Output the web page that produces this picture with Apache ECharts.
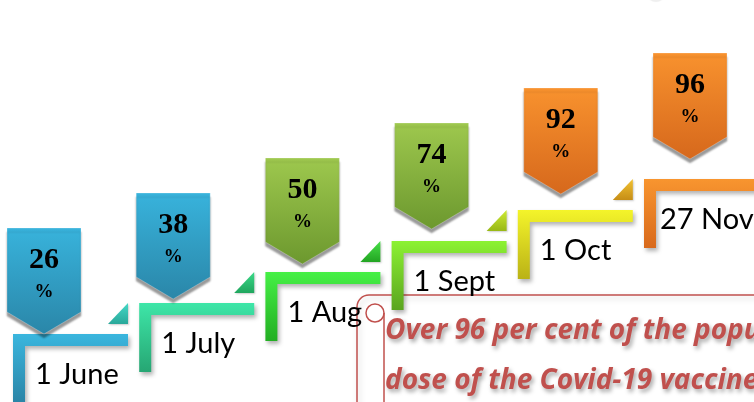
<!DOCTYPE html>
<html>
<head>
<meta charset="utf-8">
<script src="https://cdn.jsdelivr.net/npm/echarts@6/dist/echarts.min.js"></script>
<style>
  html, body { margin: 0; padding: 0; background: #fff; }
  #main { width: 754px; height: 402px; }
</style>
</head>
<body>
<div id="main"></div>
<script>
// chart data
const dateLabels = ['1 June', '1 July', '1 Aug', '1 Sept', '1 Oct', '27 Nov'];
const coverage = [26, 38, 50, 74, 92, 96];
const stepLevel = [0, 1, 2, 3, 4, 5];
const noteLines = [
    'Over 96 per cent of the population has received the first',
    'dose of the Covid-19 vaccine'
];

// colours (top, bottom) for each step, badge and small triangle
const stepColors = [
    ['#3ab6de', '#2a84a6'], ['#3ee6a8', '#26a673'], ['#46f046', '#22ae22'],
    ['#8cf232', '#5aa41e'], ['#f4f42a', '#bab216'], ['#f8952f', '#d8691c']
];
const badgeColors = [
    ['#38b3dc', '#2a86a8'], ['#38b3dc', '#2a86a8'], ['#9ec84e', '#6c982e'],
    ['#9ec84e', '#6c982e'], ['#f8922e', '#d6681c'], ['#f8922e', '#d6681c']
];
const triColors = [
    ['#44d8c6', '#2aa89a'], ['#3ad988', '#20a65e'], ['#48e048', '#22a422'],
    ['#cdea34', '#98b816'], ['#f2c232', '#c68e16'], null
];

function grad(c) {
    return new echarts.graphic.LinearGradient(0, 0, 0, 1, [
        { offset: 0, color: c[0] },
        { offset: 1, color: c[1] }
    ]);
}

function renderStep(params, api) {
    const i = params.dataIndex;
    const p = api.coord([api.value(0), api.value(1)]);
    const x = p[0], y = p[1];
    const children = [];

    // L-shaped step
    children.push({
        type: 'polygon',
        shape: { points: [[x, y], [x + 115, y], [x + 115, y + 12], [x + 12, y + 12], [x + 12, y + 69], [x, y + 69]] },
        style: {
            fill: grad(stepColors[i]),
            shadowBlur: 4, shadowColor: 'rgba(0,0,0,0.3)', shadowOffsetX: 2, shadowOffsetY: 3
        }
    });

    // small triangle at end of step
    if (triColors[i]) {
        children.push({
            type: 'polygon',
            shape: { points: [[x + 95, y - 10], [x + 115, y - 10], [x + 115, y - 31]] },
            style: {
                fill: grad(triColors[i]),
                shadowBlur: 2, shadowColor: 'rgba(0,0,0,0.2)', shadowOffsetX: 1, shadowOffsetY: 1
            }
        });
    }

    // badge (pentagon pointing down)
    const bx = x - 6 + 3 * i, by = y - 106 - 4 * i;
    children.push({
        type: 'polygon',
        shape: { points: [[bx, by], [bx + 74, by], [bx + 74, by + 84], [bx + 37, by + 106], [bx, by + 84]] },
        style: {
            fill: grad(badgeColors[i]),
            stroke: 'rgba(255,255,255,0.25)', lineWidth: 1,
            shadowBlur: 2, shadowColor: 'rgba(0,0,0,0.4)', shadowOffsetY: 4
        }
    });
    children.push({
        type: 'text',
        style: {
            text: String(api.value(2)), x: bx + 37, y: by + 32,
            fontFamily: 'Liberation Serif', fontWeight: 'bold', fontSize: 30,
            fill: '#000', align: 'center', verticalAlign: 'middle'
        }
    });
    children.push({
        type: 'text',
        style: {
            text: '%', x: bx + 37, y: by + 64,
            fontFamily: 'Liberation Serif', fontWeight: 'bold', fontSize: 19,
            fill: '#000', align: 'center', verticalAlign: 'middle'
        }
    });

    // date label
    children.push({
        type: 'text',
        style: {
            text: dateLabels[i], x: x + (i === 5 ? 16 : 22), y: y + 41,
            fontFamily: 'Lato', fontSize: 29,
            fill: '#000', align: 'left', verticalAlign: 'middle'
        }
    });

    return { type: 'group', children: children };
}

const chart = echarts.init(document.getElementById('main'));

const noteStyle = {
    fontFamily: 'Open Sans', fontStyle: 'italic', fontWeight: 'bold', fontSize: 28,
    fill: '#c0504d', verticalAlign: 'middle',
    textShadowBlur: 4, textShadowColor: 'rgba(0,0,0,0.35)',
    textShadowOffsetX: 2, textShadowOffsetY: 3
};

chart.setOption({
    animation: false,
    backgroundColor: '#fff',
    grid: { left: 13, right: 110, top: 179, bottom: 68 },
    xAxis: { type: 'value', min: 0, max: 5, show: false },
    yAxis: { type: 'value', min: 0, max: 5, show: false },
    graphic: [
        {
            type: 'group', z: 1,
            children: [
                {
                    type: 'rect',
                    shape: { x: 357, y: 295, width: 480, height: 200, r: 12 },
                    style: {
                        fill: 'none', stroke: '#c0504d', lineWidth: 1.5,
                        shadowBlur: 6, shadowColor: 'rgba(0,0,0,0.2)', shadowOffsetX: 2, shadowOffsetY: 3
                    }
                },
                {
                    type: 'circle',
                    shape: { cx: 375, cy: 313, r: 9 },
                    style: { fill: 'none', stroke: '#c0504d', lineWidth: 1.5 }
                },
                {
                    type: 'line',
                    shape: { x1: 384, y1: 313, x2: 384, y2: 410 },
                    style: { stroke: '#c0504d', lineWidth: 1.5 }
                },
                {
                    type: 'text',
                    style: Object.assign({ text: noteLines[0], x: 385, y: 331 }, noteStyle)
                },
                {
                    type: 'text',
                    style: Object.assign({ text: noteLines[1], x: 385, y: 381 }, noteStyle)
                },
                {
                    type: 'circle',
                    shape: { cx: 656, cy: -8, r: 10 },
                    style: { fill: 'rgba(0,0,0,0.06)', shadowBlur: 6, shadowColor: 'rgba(0,0,0,0.2)' }
                }
            ]
        }
    ],
    series: [
        {
            type: 'custom',
            z: 2,
            renderItem: renderStep,
            data: dateLabels.map((d, i) => [i, stepLevel[i], coverage[i]])
        }
    ]
});
</script>
</body>
</html>
